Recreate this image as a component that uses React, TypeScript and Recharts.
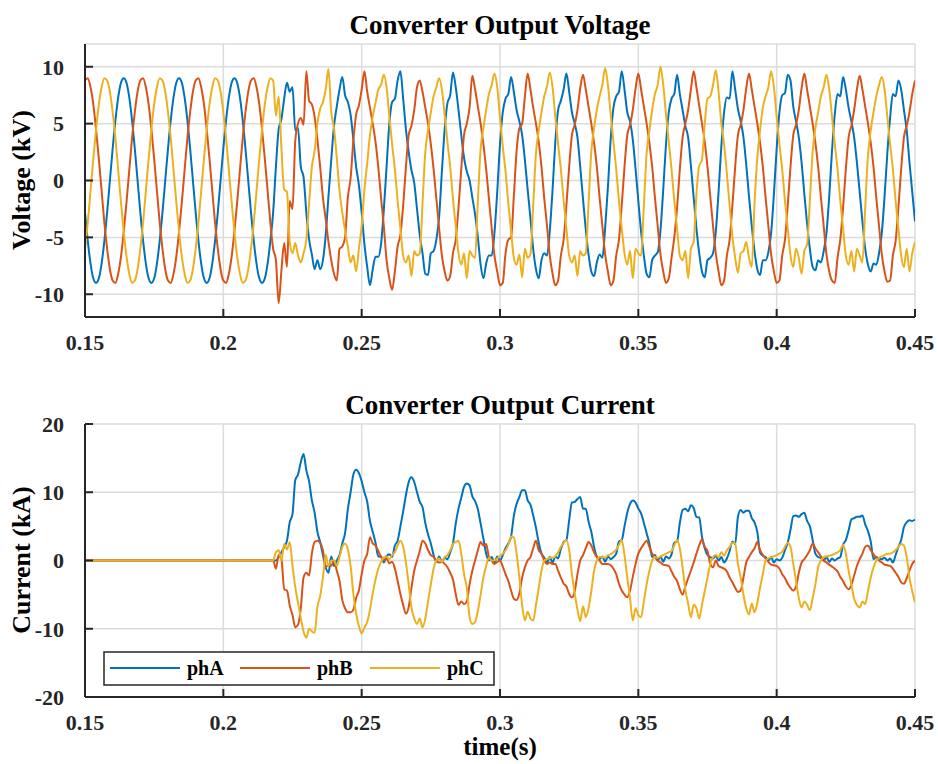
import { CartesianGrid, Legend, Line, LineChart, XAxis, YAxis } from 'recharts';

// sampling grid of the scope traces: 0.150 s .. 0.450 s every 1 ms
const T_START = 0.15;
const T_STEP = 0.001;

const timeTicks = [0.15, 0.2, 0.25, 0.3, 0.35, 0.4, 0.45];
const voltTicks = [-10, -5, 0, 5, 10];
const currTicks = [-20, -10, 0, 10, 20];

// converter output voltage, kV
const voltA = [
  -2.8, -5.3, -7.3, -8.6, -9, -8.6, -7.3, -5.3, -2.8, 0,
  2.8, 5.3, 7.3, 8.6, 9, 8.6, 7.3, 5.3, 2.8, 0,
  -2.8, -5.3, -7.3, -8.6, -9, -8.6, -7.3, -5.3, -2.8, 0,
  2.8, 5.3, 7.3, 8.6, 9, 8.6, 7.3, 5.3, 2.8, 0,
  -2.8, -5.3, -7.3, -8.6, -9, -8.6, -7.3, -5.3, -2.8, 0,
  2.8, 5.3, 7.3, 8.6, 9, 8.6, 7.3, 5.3, 2.8, 0,
  -2.8, -5.3, -7.3, -8.6, -9, -8.6, -7.3, -5.3, -2.8, 1.2,
  4.5, 5.4, 7.2, 8.6, 7.8, 8.2, 4.4, 4.6, 1.2, 0.3,
  -2.8, -5.2, -6.5, -7.8, -7.0, -7.8, -7.0, -4.8, -1.4, 1.8,
  4.8, 6.5, 8.0, 9.1, 7.5, 6.9, 5.8, 3.6, 1.2, -0.4,
  -2.8, -5.6, -7.6, -9.2, -7.8, -6.7, -6.7, -5.6, -2.6, 1.2,
  5.0, 6.9, 7.2, 8.8, 9.6, 7.2, 4.5, 2.5, 0.9, -0.2,
  -2.5, -4.8, -6.4, -8.2, -8.3, -6.4, -6.2, -5.2, -3.2, 0.8,
  4.5, 6.8, 7.5, 9.5, 8.2, 6.2, 4.0, 2.0, 0.8, 0.0,
  -1.5, -3.0, -5.0, -7.4, -8.6, -7.3, -6.6, -6.6, -4.6, -1.0,
  3.2, 6.0, 7.2, 7.6, 9.1, 7.8, 6.2, 5.2, 4.0, 1.8,
  -0.8, -3.3, -6.0, -7.8, -8.6, -7.0, -6.4, -6.6, -4.4, -0.8,
  3.4, 6.2, 7.0, 8.0, 9.4, 7.8, 6.0, 5.0, 3.8, 1.2,
  -1.6, -4.3, -6.5, -8.0, -8.4, -7.2, -6.5, -6.8, -4.2, -0.6,
  3.6, 6.4, 7.4, 7.8, 9.6, 8.0, 6.0, 5.2, 3.6, 1.0,
  -1.8, -4.5, -6.6, -8.2, -8.5, -7.0, -6.6, -6.3, -4.4, -0.8,
  3.2, 6.0, 7.2, 7.6, 9.3, 7.6, 6.2, 4.8, 3.8, 1.3,
  -1.5, -4.2, -6.4, -8.0, -8.5, -7.0, -6.8, -6.4, -4.5, -1.0,
  3.0, 6.0, 7.3, 7.2, 9.6, 8.0, 6.3, 5.2, 3.8, 1.4,
  -1.4, -4.0, -6.2, -7.8, -8.3, -7.0, -7.0, -6.3, -4.6, -1.2,
  2.8, 6.0, 7.5, 7.7, 9.3, 8.8, 6.5, 5.2, 3.8, 1.6,
  -1.2, -3.8, -6.0, -7.6, -7.9, -7.0, -7.2, -6.2, -4.6, -1.4,
  2.6, 5.8, 7.6, 7.4, 9.1, 8.0, 6.4, 5.2, 3.8, 1.6,
  -1.0, -3.6, -6.0, -7.4, -8.0, -7.3, -7.4, -6.4, -4.6, -1.4,
  2.4, 5.5, 7.6, 7.4, 8.8, 8.0, 6.2, 4.4, 1.6, -1.0,
  -3.6,
];

const voltB = [
  8.8, 9.0, 8.2, 6.7, 4.5, 1.9, -0.9, -3.7, -6.0, -7.8,
  -8.8, -9.0, -8.2, -6.7, -4.5, -1.9, 0.9, 3.7, 6.0, 7.8,
  8.8, 9.0, 8.2, 6.7, 4.5, 1.9, -0.9, -3.7, -6.0, -7.8,
  -8.8, -9.0, -8.2, -6.7, -4.5, -1.9, 0.9, 3.7, 6.0, 7.8,
  8.8, 9.0, 8.2, 6.7, 4.5, 1.9, -0.9, -3.7, -6.0, -7.8,
  -8.8, -9.0, -8.2, -6.7, -4.5, -1.9, 0.9, 3.7, 6.0, 7.8,
  8.8, 9.0, 8.2, 6.7, 4.5, 1.9, -0.9, -3.7, -6.0, -7.0,
  -10.8, -7.9, -5.5, -7.6, -1.8, -2.5, 3.5, 5.0, 5.5, 4.9,
  9.6, 7.0, 6.7, 5.6, 3.6, 1.2, -1.5, -3.4, -5.4, -7.0,
  -8.2, -8.8, -6.0, -5.8, -5.0, -1.5, 0.2, 3.5, 5.8, 6.6,
  8.0, 9.6, 7.8, 6.4, 5.0, 3.4, 1.2, -1.5, -4.0, -7.0,
  -8.6, -9.6, -8.0, -5.8, -4.8, -2.2, 1.2, 4.0, 4.8, 6.2,
  8.2, 8.8, 7.8, 6.4, 5.0, 3.2, 1.0, -1.6, -4.2, -6.6,
  -8.0, -8.8, -8.4, -6.4, -5.2, -2.4, 1.0, 4.0, 5.0, 6.4,
  9.2, 8.0, 6.5, 5.0, 3.2, 1.0, -1.6, -4.2, -6.6, -8.0,
  -9.2, -9.0, -6.4, -5.2, -5.0, -1.4, 2.6, 4.6, 5.0, 7.4,
  9.4, 8.0, 6.4, 5.0, 3.4, 1.2, -1.6, -4.0, -6.6, -8.2,
  -9.2, -8.8, -6.6, -5.2, -2.2, 1.2, 4.0, 4.9, 6.2, 8.1,
  9.3, 8.0, 6.5, 5.0, 3.3, 1.2, -1.5, -4.0, -6.5, -8.0,
  -9.2, -8.8, -6.6, -5.2, -2.2, 1.2, 4.0, 4.9, 6.2, 8.1,
  9.4, 8.0, 6.5, 5.0, 3.3, 1.2, -1.5, -4.0, -6.5, -8.0,
  -9.0, -8.6, -6.8, -5.0, -2.4, 1.0, 3.8, 5.0, 6.2, 8.0,
  9.6, 8.2, 6.6, 5.0, 3.4, 1.2, -1.4, -4.0, -6.4, -8.0,
  -9.2, -8.8, -6.6, -5.2, -2.2, 1.2, 4.0, 4.9, 6.2, 8.1,
  9.4, 8.0, 6.5, 5.0, 3.3, 1.2, -1.5, -4.0, -6.5, -8.0,
  -9.0, -8.8, -6.6, -5.2, -2.2, 1.2, 4.0, 4.9, 6.2, 8.1,
  9.4, 8.0, 6.5, 5.0, 3.3, 1.2, -1.5, -4.0, -6.5, -8.0,
  -8.8, -9.0, -6.8, -5.2, -2.4, 1.0, 3.8, 4.8, 6.2, 8.0,
  9.2, 8.0, 6.5, 5.0, 3.3, 1.2, -1.5, -4.0, -6.5, -8.0,
  -8.9, -8.8, -6.6, -5.3, -2.4, 1.0, 3.8, 4.8, 6.0, 7.6,
  8.8,
];

const voltC = [
  -6.0, -3.7, -0.9, 1.9, 4.5, 6.7, 8.2, 9.0, 8.8, 7.8,
  6.0, 3.7, 0.9, -1.9, -4.5, -6.7, -8.2, -9.0, -8.8, -7.8,
  -6.0, -3.7, -0.9, 1.9, 4.5, 6.7, 8.2, 9.0, 8.8, 7.8,
  6.0, 3.7, 0.9, -1.9, -4.5, -6.7, -8.2, -9.0, -8.8, -7.8,
  -6.0, -3.7, -0.9, 1.9, 4.5, 6.7, 8.2, 9.0, 8.8, 7.8,
  6.0, 3.7, 0.9, -1.9, -4.5, -6.7, -8.2, -9.0, -8.8, -7.8,
  -6.0, -3.7, -0.9, 1.9, 4.5, 6.7, 8.2, 9.0, 8.8, 5.7,
  7.4, 2.8, -0.8, -1.0, -5.4, -6.4, -5.5, -6.6, -7.2, -6.4,
  -5.2, -2.0, 1.2, 2.6, 5.0, 6.3, 6.9, 8.0, 9.8, 6.0,
  4.6, 2.0, -0.9, -2.8, -4.4, -5.8, -7.2, -6.6, -8.0, -6.0,
  -4.0, -0.8, 1.5, 4.0, 5.6, 6.8, 8.0, 8.4, 9.3, 8.2,
  5.6, 3.2, 1.0, -1.8, -4.2, -6.6, -7.2, -6.6, -8.4, -6.2,
  -6.6, -6.4, -2.0, 2.5, 4.4, 6.0, 7.4, 8.2, 9.0, 8.0,
  5.8, 3.4, 1.2, -1.6, -4.0, -6.4, -7.4, -6.4, -8.6, -6.2,
  -6.6, -6.8, -1.8, 2.8, 4.6, 6.2, 7.6, 8.4, 9.4, 8.2,
  5.5, 3.0, 0.8, -2.0, -4.4, -6.8, -7.4, -6.5, -8.5, -6.0,
  -6.8, -6.5, -2.2, 2.4, 4.4, 6.0, 7.4, 8.3, 9.5, 8.2,
  5.6, 3.2, 1.0, -1.8, -4.2, -6.6, -7.2, -6.6, -8.4, -6.2,
  -6.6, -6.4, -2.0, 2.5, 4.6, 6.2, 7.4, 8.4, 9.9, 8.4,
  5.8, 3.4, 1.0, -1.8, -4.2, -6.4, -7.4, -6.2, -8.6, -6.0,
  -6.4, -6.6, -2.2, 2.4, 4.4, 6.2, 7.6, 8.4, 10.0, 8.4,
  5.8, 3.4, 1.0, -1.8, -4.2, -6.6, -7.0, -6.2, -8.6, -6.0,
  -5.4, -1.2, 1.3, 1.8, 5.0, 7.2, 7.4, 8.4, 9.7, 7.8,
  5.0, 3.2, 0.6, -2.2, -4.9, -6.8, -8.1, -6.4, -6.2, -5.4,
  -6.8, -7.6, -2.0, 2.0, 4.4, 6.4, 7.4, 8.2, 9.6, 8.2,
  5.6, 3.2, 1.0, -1.8, -4.2, -6.6, -7.6, -6.0, -6.8, -8.2,
  -6.2, -5.6, -1.8, 2.5, 4.6, 6.0, 7.4, 8.2, 9.3, 8.0,
  5.6, 3.2, 1.0, -1.8, -4.2, -6.6, -7.4, -6.2, -8.0, -6.0,
  -6.6, -7.2, -2.4, 2.2, 4.4, 6.0, 7.4, 8.4, 9.1, 8.0,
  5.6, 3.2, 1.0, -1.8, -4.2, -6.6, -7.6, -6.0, -8.0, -6.4,
  -5.4,
];

// converter output current, kA
const currA = [
  0, 0, 0, 0, 0, 0, 0, 0, 0, 0,
  0, 0, 0, 0, 0, 0, 0, 0, 0, 0,
  0, 0, 0, 0, 0, 0, 0, 0, 0, 0,
  0, 0, 0, 0, 0, 0, 0, 0, 0, 0,
  0, 0, 0, 0, 0, 0, 0, 0, 0, 0,
  0, 0, 0, 0, 0, 0, 0, 0, 0, 0,
  0, 0, 0, 0, 0, 0, 0, 0, 0, 0,
  0.5, 1.2, 2.0, 2.9, 5.6, 6.8, 11.8, 12.6, 14.4, 15.6,
  13.2, 11.6, 8.8, 7.0, 4.2, 2.7, 0.8, -1.0, -1.8, 0.6,
  -0.8, 0.0, 0.8, 2.5, 4.0, 7.5, 10.0, 12.6, 13.3, 12.8,
  11.6, 10.0, 8.6, 5.8, 4.2, 2.6, 0.6, 0.6, -0.3, 0.6,
  0.9, 0.5, 2.2, 2.9, 5.0, 7.2, 9.6, 11.5, 12.2, 11.5,
  10.0, 8.6, 7.8, 5.5, 3.8, 2.5, 0.8, -0.2, 0.6, -0.2,
  0.4, 0.2, 1.2, 2.5, 5.4, 7.6, 9.2, 10.8, 11.3, 11.0,
  9.4, 8.7, 7.5, 5.4, 3.2, 1.0, 0.0, 0.5, -0.3, 0.6,
  0.0, 0.8, 1.8, 2.5, 3.5, 6.5, 8.3, 9.3, 10.3, 10.3,
  8.8, 8.2, 6.6, 4.8, 2.6, 1.0, 0.4, -0.3, 0.5, -0.3,
  0.6, 0.3, 1.7, 2.7, 3.0, 5.9, 8.5, 8.6, 9.0, 9.3,
  7.6, 7.6, 5.7, 4.2, 2.0, 0.6, 0.2, 0.6, -0.2, 0.6,
  0.2, 0.5, 1.0, 2.8, 3.0, 5.0, 7.0, 8.3, 8.8, 8.5,
  7.6, 6.9, 5.5, 4.0, 2.5, 0.5, 0.8, 0.0, 0.6, -0.2,
  0.6, 0.3, 0.9, 2.6, 2.8, 5.5, 7.4, 7.6, 7.2, 8.1,
  7.7, 6.4, 6.3, 3.5, 1.8, 0.8, 0.5, 0.3, 0.7, 0.0,
  0.5, -0.3, 0.3, 1.4, 2.8, 2.4, 6.4, 7.4, 7.0, 7.3,
  7.3, 6.2, 5.6, 4.2, 1.2, 0.7, 0.5, 0.0, 0.5, -0.3,
  0.2, 0.0, 0.4, 1.5, 2.6, 4.5, 6.5, 6.6, 6.4, 6.8,
  7.0, 5.8, 5.0, 3.0, 1.0, 0.5, 0.4, 0.0, 0.5, -0.2,
  0.3, 0.0, 0.3, 0.5, 2.3, 3.0, 4.4, 6.0, 6.2, 6.4,
  6.4, 6.6, 5.3, 4.3, 2.8, 0.2, 0.5, 0.3, 0.2, 0.4,
  0.0, 0.3, -0.3, 0.8, 2.0, 3.0, 4.9, 5.6, 5.9, 5.8,
  6.0,
];

const currB = [
  0, 0, 0, 0, 0, 0, 0, 0, 0, 0,
  0, 0, 0, 0, 0, 0, 0, 0, 0, 0,
  0, 0, 0, 0, 0, 0, 0, 0, 0, 0,
  0, 0, 0, 0, 0, 0, 0, 0, 0, 0,
  0, 0, 0, 0, 0, 0, 0, 0, 0, 0,
  0, 0, 0, 0, 0, 0, 0, 0, 0, 0,
  0, 0, 0, 0, 0, 0, 0, 0, 0, -1.2,
  0.8, 0.2, -4.2, -4.4, -6.6, -8.0, -9.8, -9.4, -7.0, -2.5,
  -1.8, -2.2, 1.0, 2.7, 2.9, 2.6, 1.5, -1.0, -0.6, -0.8,
  0.0, -1.5, -3.0, -5.8, -7.0, -7.6, -7.6, -7.2, -5.5, -4.4,
  -2.0, 0.0, 1.0, 3.4, 2.5, 2.2, 1.4, 0.5, 0.0, 0.3,
  -0.4, -0.2, -1.2, -3.0, -4.9, -6.5, -7.8, -6.8, -4.0, -1.5,
  0.0, 1.4, 2.9, 2.5, 1.5, 0.8, 0.5, 0.0, -0.3, -0.2,
  -0.5, -1.0, -1.8, -2.8, -4.9, -6.5, -6.0, -6.4, -6.0, -3.5,
  -1.5, 0.0, 1.5, 2.7, 2.2, 2.4, 0.5, 0.0, -0.5, -0.2,
  0.0, -0.9, -2.0, -3.0, -4.4, -5.6, -5.8, -4.8, -2.5, -1.0,
  0.0, 0.5, 1.8, 2.9, 1.5, 1.0, 0.0, -0.5, -0.3, -0.5,
  -0.5, -1.5, -2.5, -3.4, -3.8, -4.9, -5.4, -4.5, -2.0, 0.0,
  0.8, 1.8, 2.7, 2.2, 1.2, 0.5, 0.0, -0.5, -0.5, -0.5,
  -0.7, -1.2, -2.0, -3.4, -4.4, -5.0, -5.4, -4.4, -2.4, -0.5,
  1.0, 1.8, 2.4, 2.9, 2.0, 1.0, 0.5, 0.0, -0.3, -0.6,
  -0.7, -0.8, -1.6, -2.4, -3.0, -4.2, -5.0, -3.8, -2.6, -1.5,
  -0.3, 1.0, 2.2, 3.1, 2.0, 1.4, -0.5, -1.0, 0.0, -0.8,
  -1.0, -1.2, -1.6, -2.5, -3.2, -4.0, -4.6, -4.4, -2.5, -0.3,
  0.5, 1.2, 1.8, 2.7, 1.5, 0.8, 0.3, -0.2, -0.6, -0.7,
  -0.8, -1.2, -2.0, -2.6, -3.4, -4.0, -4.4, -3.8, -1.8, -0.3,
  0.2, 0.8, 1.5, 2.5, 1.8, 1.2, 0.6, 0.0, -0.3, -0.6,
  -0.9, -1.2, -1.6, -2.4, -3.0, -3.8, -4.2, -3.6, -2.2, -0.8,
  0.2, 1.0, 2.0, 2.2, 1.5, 0.9, 0.4, 0.0, -0.3, -0.6,
  -0.7, -0.8, -1.2, -1.8, -2.4, -3.2, -3.4, -2.6, -1.5, -0.5,
  0.0,
];

const currC = [
  0, 0, 0, 0, 0, 0, 0, 0, 0, 0,
  0, 0, 0, 0, 0, 0, 0, 0, 0, 0,
  0, 0, 0, 0, 0, 0, 0, 0, 0, 0,
  0, 0, 0, 0, 0, 0, 0, 0, 0, 0,
  0, 0, 0, 0, 0, 0, 0, 0, 0, 0,
  0, 0, 0, 0, 0, 0, 0, 0, 0, 0,
  0, 0, 0, 0, 0, 0, 0, 0, 0, 1.2,
  1.5, 0.0, 2.4, 1.6, 2.7, -0.8, -3.9, -6.2, -8.4, -10.4,
  -11.3, -10.0, -10.4, -10.6, -6.8, -5.2, -2.5, 0.8, -0.8, 0.0,
  0.0, -0.8, 0.5, 2.0, 2.5, 1.6, -0.8, -4.9, -7.8, -9.6,
  -10.7, -9.8, -9.0, -7.2, -4.8, -2.8, -1.2, -0.2, 0.5, 0.6,
  0.2, 0.8, 1.2, 2.2, 2.9, 2.0, -0.3, -3.5, -6.9, -8.5,
  -9.3, -8.5, -9.8, -8.5, -6.0, -3.5, -1.2, 0.0, 0.3, -0.2,
  0.5, 0.8, 1.5, 2.4, 2.7, 2.9, 1.0, -2.0, -4.0, -8.3,
  -9.3, -9.0, -7.4, -5.0, -2.5, -0.8, 0.4, 0.0, 0.0, 0.3,
  0.7, 1.0, 1.5, 2.3, 3.5, 3.4, 1.0, -2.5, -6.5, -8.8,
  -7.5, -8.5, -8.8, -6.5, -4.0, -1.5, 0.0, 0.2, 0.4, 0.4,
  0.6, 1.2, 2.0, 2.6, 3.0, 1.5, -2.0, -4.8, -7.2, -8.9,
  -6.7, -8.3, -7.0, -4.5, -1.5, 0.0, 0.5, 0.5, 0.4, 0.8,
  0.9, 1.2, 1.6, 2.3, 3.0, 0.8, -2.5, -5.5, -8.8, -7.0,
  -8.0, -8.3, -6.0, -3.5, -1.5, 0.0, 0.5, 0.4, 0.6, 0.8,
  1.0, 1.2, 1.4, 2.2, 3.0, 1.8, -1.0, -4.3, -6.3, -8.3,
  -6.5, -7.0, -8.5, -6.5, -4.5, -2.5, -0.5, 0.5, 0.8, 0.5,
  1.2, 0.7, 1.5, 2.0, 2.6, 2.5, -0.5, -2.5, -5.0, -7.0,
  -7.9, -6.3, -7.6, -6.2, -4.0, -2.0, 0.0, 0.3, 0.5, 0.6,
  0.8, 1.0, 1.3, 2.0, 2.6, 2.0, -0.5, -3.0, -5.5, -6.9,
  -6.0, -6.5, -7.3, -5.5, -3.5, -1.0, 0.0, 0.5, 0.6, 0.7,
  0.8, 1.0, 1.2, 1.5, 2.3, 1.0, -1.5, -3.5, -5.6, -6.5,
  -6.9, -6.0, -6.4, -4.5, -2.5, -1.0, 0.0, 0.4, 0.6, 0.8,
  1.0, 1.0, 1.2, 1.5, 2.0, 2.4, 2.2, 0.5, -2.5, -4.5,
  -6.1,
];

const series = [
  { key: 'phA', name: 'phA', color: '#0072BD' },
  { key: 'phB', name: 'phB', color: '#D95319' },
  { key: 'phC', name: 'phC', color: '#EDB120' },
];

const FONT = '"Liberation Serif", "Times New Roman", serif';
const INK = '#262626';
const GRID = '#dcdcdc';

const buildRows = (a: number[], b: number[], c: number[]) =>
  a.map((v, i) => ({
    t: Math.round((T_START + i * T_STEP) * 1000) / 1000,
    phA: v,
    phB: b[i],
    phC: c[i],
  }));

const voltRows = buildRows(voltA, voltB, voltC);
const currRows = buildRows(currA, currB, currC);

const tickStyle = { fontSize: 22, fontWeight: 700, fill: INK, fontFamily: FONT };

const LegendBox = () => (
  <svg width={392} height={35}>
    <rect x={1} y={1} width={390} height={33} fill="#fff" stroke={INK} strokeWidth={1.5} />
    {series.map((s, i) => (
      <g key={s.key}>
        <line x1={7 + i * 130} x2={77 + i * 130} y1={17} y2={17} stroke={s.color} strokeWidth={2} />
        <text x={84 + i * 130} y={24} fontFamily={FONT} fontWeight={700} fontSize={20} fill="#000">
          {s.name}
        </text>
      </g>
    ))}
  </svg>
);

interface PanelProps {
  data: { t: number; phA: number; phB: number; phC: number }[];
  domain: [number, number];
  ticks: number[];
  legend?: boolean;
}

const Panel = ({ data, domain, ticks, legend = false }: PanelProps) => (
  <LineChart
    width={938}
    height={360}
    data={data}
    margin={{ top: 44, right: 23, bottom: 13, left: 25 }}
  >
    <CartesianGrid stroke={GRID} strokeWidth={1.5} />
    <XAxis
      dataKey="t"
      type="number"
      domain={[0.15, 0.45]}
      ticks={timeTicks}
      allowDataOverflow
      height={30}
      tickSize={-8}
      tickMargin={25}
      tick={tickStyle}
      stroke={INK}
      strokeWidth={2}
    />
    <XAxis
      xAxisId="top"
      orientation="top"
      dataKey="t"
      type="number"
      domain={[0.15, 0.45]}
      ticks={timeTicks}
      allowDataOverflow
      height={0}
      tickSize={-8}
      tick={false}
      stroke={INK}
      strokeWidth={2}
    />
    <YAxis
      type="number"
      domain={domain}
      ticks={ticks}
      allowDataOverflow
      width={60}
      tickSize={-8}
      tickMargin={29}
      tick={tickStyle}
      stroke={INK}
      strokeWidth={2}
    />
    <YAxis
      yAxisId="right"
      orientation="right"
      type="number"
      domain={domain}
      ticks={ticks}
      allowDataOverflow
      width={0}
      tickSize={-8}
      tick={false}
      stroke={INK}
      strokeWidth={2}
    />
    {series.map((s) => (
      <Line
        key={s.key}
        dataKey={s.key}
        name={s.name}
        type="monotone"
        stroke={s.color}
        strokeWidth={2}
        dot={false}
        isAnimationActive={false}
      />
    ))}
    {legend && (
      <Legend
        layout="horizontal"
        verticalAlign="middle"
        align="center"
        content={<LegendBox />}
        wrapperStyle={{ left: 103, top: 271, width: 392, height: 35 }}
      />
    )}
  </LineChart>
);

export default function App() {
  return (
    <div
      style={{
        position: 'absolute',
        left: 0,
        top: 0,
        width: 938,
        height: 764,
        background: '#fff',
        overflow: 'hidden',
      }}
    >
      <div style={{ position: 'absolute', left: 0, top: 0 }}>
        <Panel data={voltRows} domain={[-12, 12]} ticks={voltTicks} />
      </div>
      <div style={{ position: 'absolute', left: 0, top: 380 }}>
        <Panel data={currRows} domain={[-20, 20]} ticks={currTicks} legend />
      </div>
      <svg
        width={938}
        height={764}
        style={{ position: 'absolute', left: 0, top: 0, pointerEvents: 'none' }}
      >
        <g fontFamily={FONT} fontWeight={700} fill="#000">
          <text x={500} y={34} fontSize={27} textAnchor="middle">
            Converter Output Voltage
          </text>
          <text x={500} y={414} fontSize={27} textAnchor="middle">
            Converter Output Current
          </text>
          <text x={500} y={755} fontSize={25} textAnchor="middle">
            time(s)
          </text>
          <text transform="translate(30,180) rotate(-90)" fontSize={26} textAnchor="middle">
            Voltage (kV)
          </text>
          <text transform="translate(30,560) rotate(-90)" fontSize={26} textAnchor="middle">
            Current (kA)
          </text>
        </g>
      </svg>
    </div>
  );
}
